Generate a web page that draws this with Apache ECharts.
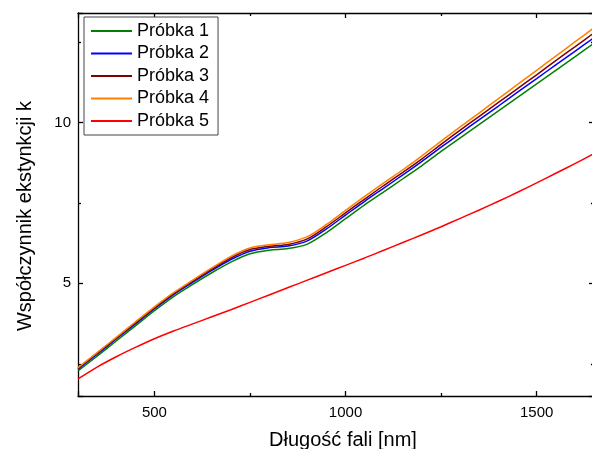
<!DOCTYPE html>
<html>
<head>
<meta charset="utf-8">
<script src="https://cdn.jsdelivr.net/npm/echarts@6/dist/echarts.min.js"></script>
<style>
  html, body { margin: 0; padding: 0; background: #fff; }
  #chart { width: 592px; height: 449px; }
</style>
</head>
<body>
<div id="chart"></div>
<script>
// wavelength [nm]
const wavelengths = [300, 350, 400, 450, 500, 550, 600, 650, 700, 750, 800, 850, 900, 950,
  1000, 1050, 1100, 1150, 1200, 1250, 1300, 1350, 1400, 1450, 1500, 1550, 1600, 1650];

const probka1 = [2.28, 2.74, 3.21, 3.68, 4.15, 4.59, 4.97, 5.33, 5.66, 5.92, 6.03, 6.08, 6.22, 6.58,
  7.01, 7.44, 7.84, 8.25, 8.66, 9.10, 9.52, 9.94, 10.36, 10.78, 11.20, 11.62, 12.04, 12.46];
const probka2 = [2.33, 2.80, 3.27, 3.74, 4.21, 4.65, 5.03, 5.40, 5.74, 6.00, 6.11, 6.16, 6.32, 6.69,
  7.12, 7.55, 7.96, 8.37, 8.79, 9.23, 9.66, 10.09, 10.51, 10.94, 11.36, 11.79, 12.21, 12.63];
const probka3 = [2.36, 2.83, 3.30, 3.77, 4.24, 4.68, 5.07, 5.44, 5.79, 6.05, 6.15, 6.21, 6.38, 6.76,
  7.19, 7.62, 8.04, 8.45, 8.87, 9.32, 9.76, 10.19, 10.62, 11.05, 11.48, 11.92, 12.35, 12.78];
const probka4 = [2.38, 2.85, 3.32, 3.80, 4.27, 4.71, 5.10, 5.48, 5.84, 6.10, 6.20, 6.27, 6.45, 6.83,
  7.27, 7.70, 8.12, 8.53, 8.96, 9.42, 9.86, 10.30, 10.74, 11.18, 11.62, 12.06, 12.50, 12.94];
const probka5 = [2.03, 2.40, 2.72, 3.01, 3.28, 3.52, 3.74, 3.96, 4.18, 4.41, 4.64, 4.87, 5.10, 5.33,
  5.56, 5.79, 6.03, 6.27, 6.51, 6.76, 7.02, 7.28, 7.55, 7.83, 8.12, 8.42, 8.72, 9.03];

const seriesList = [
  { name: 'Próbka 1', data: probka1, color: '#008000' },
  { name: 'Próbka 2', data: probka2, color: '#0000ff' },
  { name: 'Próbka 3', data: probka3, color: '#800000' },
  { name: 'Próbka 4', data: probka4, color: '#ff8000' },
  { name: 'Próbka 5', data: probka5, color: '#ff0000' },
];

const font = '"Liberation Sans", Arial, sans-serif';

const frameAxis = {
  axisLine: { show: true, lineStyle: { color: '#000', width: 1.3 } },
  axisTick: { show: true, inside: true, length: 5, lineStyle: { color: '#000', width: 1.3 } },
  minorTick: { show: true, splitNumber: 2, length: 3, lineStyle: { color: '#000', width: 1.3 } },
  splitLine: { show: false },
  minorSplitLine: { show: false },
};

const tickLabel = {
  fontFamily: font, fontSize: 15, color: '#000',
  showMinLabel: false, showMaxLabel: false,
  formatter: v => String(v),
};

const chart = echarts.init(document.getElementById('chart'));
chart.setOption({
  animation: false,
  backgroundColor: '#fff',
  grid: { left: 78, top: 13, width: 516, height: 383, outerBoundsMode: 'none', containLabel: false },
  legend: {
    orient: 'vertical',
    left: 84,
    top: 17,
    padding: [4, 9, 4, 7],
    itemGap: 2.5,
    itemWidth: 41,
    itemHeight: 2,
    icon: 'rect',
    borderColor: '#444',
    borderWidth: 1,
    backgroundColor: '#fff',
    textStyle: { fontFamily: font, fontSize: 18, color: '#000', lineHeight: 20 },
    data: seriesList.map(s => s.name),
  },
  graphic: [
    {
      type: 'text', x: 343, y: 440,
      style: { text: 'Długość fali [nm]', fontFamily: font, fontSize: 20, fill: '#000', align: 'center', verticalAlign: 'middle' },
    },
    {
      type: 'text', x: 25, y: 216, rotation: Math.PI / 2,
      style: { text: 'Współczynnik ekstynkcji k', fontFamily: font, fontSize: 20, fill: '#000', align: 'center', verticalAlign: 'middle' },
    },
  ],
  xAxis: [
    Object.assign({}, frameAxis, {
      type: 'value', min: 300, max: 1650, splitNumber: 3, position: 'bottom',
      axisLabel: Object.assign({ margin: 9 }, tickLabel),
    }),
    Object.assign({}, frameAxis, {
      type: 'value', min: 300, max: 1650, splitNumber: 3, position: 'top',
      axisLabel: { show: false },
    }),
  ],
  yAxis: [
    Object.assign({}, frameAxis, {
      type: 'value', min: 1.5, max: 13.4, splitNumber: 2, position: 'left',
      axisLabel: Object.assign({ margin: 7 }, tickLabel),
    }),
    Object.assign({}, frameAxis, {
      type: 'value', min: 1.5, max: 13.4, splitNumber: 2, position: 'right',
      axisLabel: { show: false },
    }),
  ],
  series: seriesList.map(s => ({
    name: s.name,
    type: 'line',
    xAxisIndex: 0,
    yAxisIndex: 0,
    smooth: 0.3,
    symbol: 'none',
    color: s.color,
    lineStyle: { width: 1.5, color: s.color },
    data: wavelengths.map((w, i) => [w, s.data[i]]),
  })),
});
</script>
</body>
</html>
